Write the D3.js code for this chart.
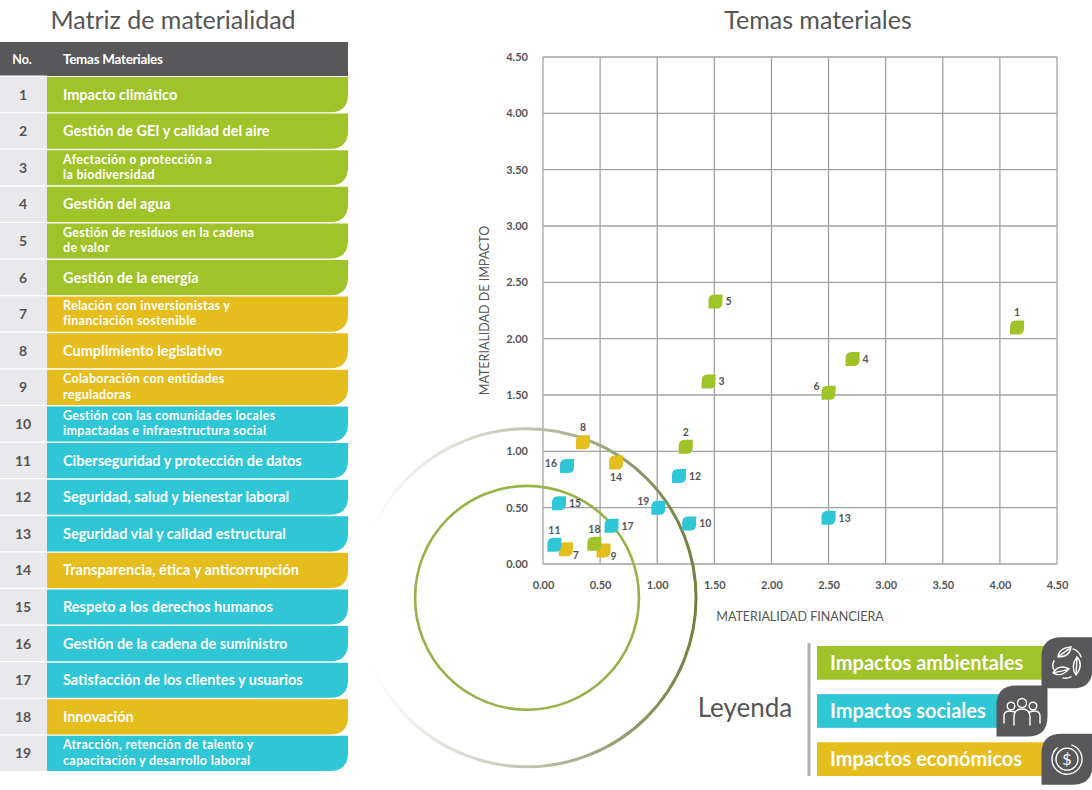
<!DOCTYPE html>
<html>
<head>
<meta charset="utf-8">
<script src="https://cdn.jsdelivr.net/npm/d3@7"></script>
<style>
  body { margin: 0; background: #fff; }
  svg { font-family: Lato, "Open Sans", sans-serif; }
</style>
</head>
<body>
<svg id="chart" width="1092" height="790"></svg>
<script>
// temas materiales (tabla)
const numeros = d3.range(1, 20)
const temas = [
  "Impacto climático",
  "Gestión de GEI y calidad del aire",
  "Afectación o protección a\nla biodiversidad",
  "Gestión del agua",
  "Gestión de residuos en la cadena\nde valor",
  "Gestión de la energía",
  "Relación con inversionistas y\nfinanciación sostenible",
  "Cumplimiento legislativo",
  "Colaboración con entidades\nreguladoras",
  "Gestión con las comunidades locales\nimpactadas e infraestructura social",
  "Ciberseguridad y protección de datos",
  "Seguridad, salud y bienestar laboral",
  "Seguridad vial y calidad estructural",
  "Transparencia, ética y anticorrupción",
  "Respeto a los derechos humanos",
  "Gestión de la cadena de suministro",
  "Satisfacción de los clientes y usuarios",
  "Innovación",
  "Atracción, retención de talento y\ncapacitación y desarrollo laboral"
]
const categoriaTabla = ["amb","amb","amb","amb","amb","amb","eco","eco","eco","soc","soc","soc","soc","eco","soc","soc","soc","eco","soc"]
// en el gráfico el punto 18 aparece en verde
const categoriaPunto = ["amb","amb","amb","amb","amb","amb","eco","eco","eco","soc","soc","soc","soc","eco","soc","soc","soc","amb","soc"]

// valores
const materialidadFinanciera = [4.15, 1.25, 1.45, 2.71, 1.51, 2.50, 0.20, 0.35, 0.53, 1.28, 0.10, 1.19, 2.50, 0.64, 0.14, 0.21, 0.60, 0.45, 1.01]
const materialidadImpacto    = [2.10, 1.04, 1.62, 1.82, 2.33, 1.52, 0.13, 1.08, 0.12, 0.36, 0.17, 0.78, 0.41, 0.90, 0.54, 0.87, 0.34, 0.18, 0.50]

const ticks = [0, 0.5, 1, 1.5, 2, 2.5, 3, 3.5, 4, 4.5]

// circulos de umbral (en unidades del gráfico)
const circulos = [
  { cx: -0.14, cy: -0.30, r: 0.98, tipo: "interno" },
  { cx: -0.14, cy: -0.30, r: 1.48, tipo: "externo" }
]

const leyendaTextos = ["Impactos ambientales", "Impactos sociales", "Impactos económicos"]
const leyendaCategorias = ["amb", "soc", "eco"]

const colores = { amb: "#9fc329", soc: "#2fc6d5", eco: "#e5bd1c" }
const gris = "#58585a"
const texto = "#555"

const svg = d3.select("#chart")

// ---------- tabla ----------
svg.append("text")
  .attr("x", 173).attr("y", 29)
  .attr("text-anchor", "middle")
  .attr("font-size", 25)
  .attr("fill", texto)
  .text("Matriz de materialidad")

svg.append("rect").attr("x", 0).attr("y", 42).attr("width", 348).attr("height", 34).attr("fill", gris)
svg.append("text").attr("x", 22).attr("y", 64).attr("text-anchor", "middle")
  .attr("font-size", 12.5).attr("font-weight", 700).attr("fill", "#fff").text("No.")
svg.append("text").attr("x", 63).attr("y", 64)
  .attr("font-size", 13.5).attr("font-weight", 700).attr("fill", "#fff").attr("letter-spacing", -0.3).text("Temas Materiales")

const rowY = d3.scaleBand().domain(numeros).range([77, 771]).paddingInner(0.04)

svg.append("rect").attr("x", 0).attr("y", 77).attr("width", 47).attr("height", 694).attr("fill", "#e9e9ed")

const tabPath = (x, y, w, h, r) =>
  `M${x},${y}H${x + w}V${y + h - r}Q${x + w},${y + h} ${x + w - r},${y + h}H${x}Z`

const rows = svg.append("g").selectAll("g")
  .data(numeros)
  .join("g")
  .attr("transform", d => `translate(0,${rowY(d)})`)

rows.append("line")
  .attr("x1", 0).attr("x2", 47).attr("y1", -1).attr("y2", -1)
  .attr("stroke", "#fff").attr("stroke-width", 1.2)

rows.append("path")
  .attr("d", tabPath(47, 0, 301, rowY.bandwidth(), 18))
  .attr("fill", d => colores[categoriaTabla[d - 1]])

rows.append("text")
  .attr("x", 23).attr("y", rowY.bandwidth() / 2 + 5)
  .attr("text-anchor", "middle")
  .attr("font-size", 14).attr("font-weight", 700).attr("fill", texto)
  .text(d => d)

rows.each(function (d) {
  const lineas = temas[d - 1].split("\n")
  const h = rowY.bandwidth()
  const g = d3.select(this)
  if (lineas.length === 1) {
    g.append("text")
      .attr("x", 63).attr("y", h / 2 + 5)
      .attr("font-size", 14.5).attr("font-weight", 700).attr("fill", "#fff")
      .text(lineas[0])
  } else {
    g.selectAll(".l").data(lineas).join("text")
      .attr("x", 63).attr("y", (l, i) => h / 2 - 4 + i * 15.2)
      .attr("font-size", 12.5).attr("font-weight", 700).attr("fill", "#fff")
      .attr("letter-spacing", 0.3)
      .text(l => l)
  }
})

// ---------- matriz ----------
svg.append("text")
  .attr("x", 818).attr("y", 29)
  .attr("text-anchor", "middle")
  .attr("font-size", 25)
  .attr("fill", texto)
  .text("Temas materiales")

const x = d3.scaleLinear().domain([0, 4.5]).range([543, 1057])
const y = d3.scaleLinear().domain([0, 4.5]).range([564, 57])

const grid = svg.append("g").attr("stroke", "#a3a3a3").attr("stroke-width", 1.3)
grid.selectAll(".v").data(ticks).join("line")
  .attr("x1", d => x(d)).attr("x2", d => x(d)).attr("y1", y(0)).attr("y2", y(4.5))
grid.selectAll(".h").data(ticks).join("line")
  .attr("y1", d => y(d)).attr("y2", d => y(d)).attr("x1", x(0)).attr("x2", x(4.5))

const xAxis = svg.append("g")
  .attr("transform", `translate(0,${y(0) + 14})`)
  .call(d3.axisBottom(x).tickValues(ticks).tickFormat(d3.format(".2f")).tickSize(0))
xAxis.select(".domain").remove()
xAxis.selectAll("text").attr("font-size", 11).attr("font-weight", 700).attr("fill", texto).attr("font-family", "Lato")

const yAxis = svg.append("g")
  .attr("transform", `translate(${x(0) - 12},0)`)
  .call(d3.axisLeft(y).tickValues(ticks).tickFormat(d3.format(".2f")).tickSize(0))
yAxis.select(".domain").remove()
yAxis.selectAll("text").attr("font-size", 11).attr("font-weight", 700).attr("fill", texto).attr("font-family", "Lato")

svg.append("text")
  .attr("transform", `translate(489,${(y(0) + y(4.5)) / 2}) rotate(-90)`)
  .attr("text-anchor", "middle")
  .attr("font-size", 12.5).attr("fill", texto)
  .text("MATERIALIDAD DE IMPACTO")

svg.append("text")
  .attr("x", 800).attr("y", 621)
  .attr("text-anchor", "middle")
  .attr("font-size", 12.5).attr("fill", texto)
  .text("MATERIALIDAD FINANCIERA")

// circulos
const defs = svg.append("defs")
const grad = defs.append("linearGradient")
  .attr("id", "fade").attr("gradientUnits", "userSpaceOnUse")
  .attr("x1", 370).attr("y1", 0).attr("x2", 700).attr("y2", 0)
grad.append("stop").attr("offset", "0%").attr("stop-color", "#ffffff")
grad.append("stop").attr("offset", "45%").attr("stop-color", "#c4c9b4")
grad.append("stop").attr("offset", "100%").attr("stop-color", "#6f7f3c")

const pxPorUnidad = x(1) - x(0)
svg.append("g").selectAll("circle")
  .data(circulos)
  .join("circle")
  .attr("cx", d => x(d.cx))
  .attr("cy", d => y(d.cy))
  .attr("r", d => d.r * pxPorUnidad)
  .attr("fill", "none")
  .attr("stroke", d => d.tipo === "interno" ? "#98b24a" : "url(#fade)")
  .attr("stroke-width", d => d.tipo === "interno" ? 2.6 : 3)

// puntos
const leaf = (s, r) => {
  const h = s / 2
  return `M${-h},${-h + r}Q${-h},${-h} ${-h + r},${-h}H${h}V${h - r}Q${h},${h} ${h - r},${h}H${-h}Z`
}

// lado de la etiqueta de cada punto
const lado = ["top","top","right","right","right","topleft","rightdown","top","rightdown","right","top","right","right","bottom","right","left","right","top","topleft"]
const offs = {
  top: [0, -11, "middle"], right: [10, 4, "start"], left: [-10, 1, "end"],
  bottom: [0, 18, "middle"], topleft: [-9, -3, "end"], rightdown: [7, 10, "start"]
}

const puntos = svg.append("g").selectAll("g")
  .data(numeros)
  .join("g")
  .attr("transform", d => `translate(${x(materialidadFinanciera[d - 1])},${y(materialidadImpacto[d - 1])})`)

puntos.append("path")
  .attr("d", leaf(14, 6))
  .attr("fill", d => colores[categoriaPunto[d - 1]])

puntos.append("text")
  .attr("x", d => offs[lado[d - 1]][0])
  .attr("y", d => offs[lado[d - 1]][1])
  .attr("text-anchor", d => offs[lado[d - 1]][2])
  .attr("font-size", 10.5).attr("font-weight", 700).attr("fill", texto)
  .text(d => d)

// ---------- leyenda ----------
svg.append("text")
  .attr("x", 745).attr("y", 717)
  .attr("text-anchor", "middle")
  .attr("font-size", 26).attr("fill", texto)
  .text("Leyenda")

svg.append("line")
  .attr("x1", 809).attr("x2", 809).attr("y1", 643).attr("y2", 776)
  .attr("stroke", "#b0b0b0").attr("stroke-width", 3)

const legY = d3.scaleBand().domain(leyendaCategorias).range([646, 776]).paddingInner(0.3)
const barAncho = { amb: 228, soc: 183, eco: 228 }

const leg = svg.append("g").selectAll("g")
  .data(leyendaCategorias)
  .join("g")
  .attr("transform", d => `translate(817,${legY(d)})`)

leg.append("rect")
  .attr("width", d => barAncho[d]).attr("height", legY.bandwidth())
  .attr("fill", d => colores[d])

leg.append("text")
  .attr("x", 13).attr("y", legY.bandwidth() / 2 + 7)
  .attr("font-size", 20).attr("font-weight", 700).attr("fill", "#fff")
  .text((d, i) => leyendaTextos[i])

const iconG = leg.append("g")
  .attr("transform", d => `translate(${barAncho[d] + 22},${legY.bandwidth() / 2})`)

iconG.append("path")
  .attr("d", leaf(51, 20))
  .attr("fill", gris)

const linea = g => g.attr("fill", "none").attr("stroke", "#fff").attr("stroke-width", 1.4).attr("stroke-linecap", "round")

iconG.filter(d => d === "amb").each(function () {
  const g = d3.select(this)
  g.append("path").call(linea).attr("d", "M-9,-6 Q-8,-15 4,-16 Q3,-6 -9,-6 Z M-9,-6 L2,-14")
  g.append("path").call(linea).attr("d", "M-14,10 Q-8,1 2,6 Q-6,15 -14,10 Z M-14,10 L0,7")
  g.append("path").call(linea).attr("d", "M10,-6 Q17,2 9,12 Q3,4 10,-6 Z M10,-6 L9,12")
  g.append("path").call(linea).attr("d", "M-13,-2 Q-16,4 -12,8 M6,-14 Q12,-12 14,-6 M4,14 Q0,16 -4,15")
})

iconG.filter(d => d === "soc").each(function () {
  const g = d3.select(this)
  g.append("circle").call(linea).attr("cx", 0).attr("cy", -8).attr("r", 4.5)
  g.append("circle").call(linea).attr("cx", -11).attr("cy", -5).attr("r", 3.8)
  g.append("circle").call(linea).attr("cx", 11).attr("cy", -5).attr("r", 3.8)
  g.append("path").call(linea).attr("d", "M-8,14 V6 Q-8,-2 0,-2 Q8,-2 8,6 V14")
  g.append("path").call(linea).attr("d", "M-18,12 V5 Q-18,0 -12,0 Q-8,0 -7,2")
  g.append("path").call(linea).attr("d", "M18,12 V5 Q18,0 12,0 Q8,0 7,2")
})

iconG.filter(d => d === "eco").each(function () {
  const g = d3.select(this)
  g.append("circle").call(linea).attr("r", 11)
  g.append("path").call(linea).attr("d", d3.arc()({ innerRadius: 15, outerRadius: 15, startAngle: 0.3, endAngle: 5.6 }))
  g.append("text").attr("text-anchor", "middle").attr("y", 6).attr("font-size", 16).attr("fill", "#fff").text("$")
})
</script>
</body>
</html>
